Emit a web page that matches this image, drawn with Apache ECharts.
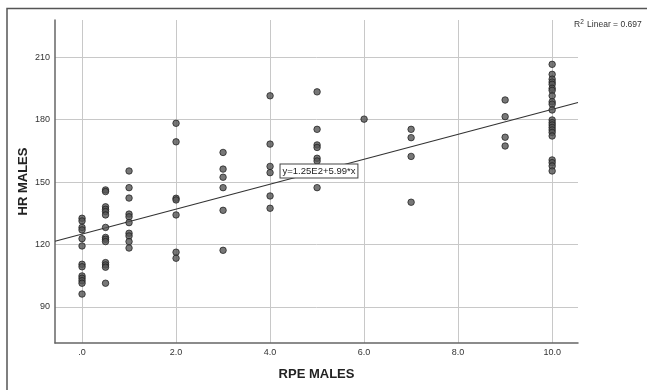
<!DOCTYPE html>
<html>
<head>
<meta charset="utf-8">
<script src="https://cdn.jsdelivr.net/npm/echarts@6/dist/echarts.min.js"></script>
<style>
html,body{margin:0;padding:0;background:#fff;}
#chart{width:647px;height:390px;}
</style>
</head>
<body>
<div id="chart"></div>
<script>
// RPE categories and HR values observed at each
const rpeLevels = [0, 0.5, 1, 2, 3, 4, 5, 6, 7, 9, 10];
const hrAt0   = [132.6, 131.3, 128.2, 127, 122.8, 119.3, 110.5, 109.3, 104.9, 103.8, 102.6, 101.4, 96.2];
const hrAt0_5 = [146.2, 145.4, 138.1, 136.9, 135.8, 134.2, 128.2, 123.4, 122.5, 121.4, 111.3, 110.2, 109.1, 101.4];
const hrAt1   = [155.3, 147.3, 142.3, 134.6, 133.3, 130.5, 125.4, 124.1, 121.4, 118.3];
const hrAt2   = [178.2, 169.3, 142.2, 141.4, 134.2, 116.3, 113.4];
const hrAt3   = [164.2, 156.2, 152.3, 147.3, 136.4, 117.2];
const hrAt4   = [191.4, 168.2, 157.5, 154.5, 143.3, 137.4];
const hrAt5   = [193.3, 175.3, 167.8, 166.6, 161.4, 160.1, 147.3];
const hrAt6   = [180.2];
const hrAt7   = [175.3, 171.3, 162.3, 140.3];
const hrAt9   = [189.4, 181.4, 171.5, 167.3];
const hrAt10  = [206.5, 201.7, 199.4, 198, 196.9, 195, 194, 191.4, 188.5, 187.4, 184.6, 179.8, 178.5, 177.4, 176.2, 175, 173.8, 172.1, 160.6, 159.3, 157.7, 155.3];
const hrGroups = [hrAt0, hrAt0_5, hrAt1, hrAt2, hrAt3, hrAt4, hrAt5, hrAt6, hrAt7, hrAt9, hrAt10];

// Fit line
const fitIntercept = 125;
const fitSlope = 5.99;
const fitLabel = 'y=1.25E2+5.99*x';
const r2Text = '0.697';

// Axis ranges / labels
const xMin = -0.575, xMax = 10.55;
const yMin = 72.7, yMax = 227.8;
const xTitle = 'RPE MALES';
const yTitle = 'HR MALES';

const points = [];
rpeLevels.forEach((r, i) => hrGroups[i].forEach(v => points.push([r, v])));
const fitData = [[xMin, fitIntercept + fitSlope * xMin], [xMax, fitIntercept + fitSlope * xMax]];

const chart = echarts.init(document.getElementById('chart'), null, {renderer: 'canvas'});
const font = 'Liberation Sans, Arial, sans-serif';
chart.setOption({
  animation: false,
  backgroundColor: '#fff',
  grid: {left: 55, right: 69, top: 20, bottom: 47, containLabel: false},
  xAxis: {
    type: 'value', min: xMin, max: xMax, splitNumber: 5,
    name: xTitle, nameLocation: 'middle', nameGap: 25, nameMoveOverlap: false,
    nameTextStyle: {fontFamily: font, fontSize: 13, fontWeight: 'bold', color: '#222'},
    axisLine: {show: true, onZero: false, lineStyle: {color: '#666', width: 1.5}},
    axisTick: {show: false},
    splitLine: {show: true, showMinLine: false, showMaxLine: false, lineStyle: {color: '#c8c8c8', width: 1}},
    axisLabel: {showMinLabel: false, showMaxLabel: false, margin: 5, fontFamily: font, fontSize: 9, color: '#333',
      formatter: v => v === 0 ? '.0' : v.toFixed(1)}
  },
  yAxis: {
    type: 'value', min: yMin, max: yMax, splitNumber: 5,
    name: yTitle, nameLocation: 'middle', nameGap: 25, nameMoveOverlap: false,
    nameTextStyle: {fontFamily: font, fontSize: 13, fontWeight: 'bold', color: '#222'},
    axisLine: {show: true, onZero: false, lineStyle: {color: '#666', width: 1.5}},
    axisTick: {show: false},
    splitLine: {show: true, showMinLine: false, showMaxLine: false, lineStyle: {color: '#c8c8c8', width: 1}},
    axisLabel: {showMinLabel: false, showMaxLabel: false, margin: 5, fontFamily: font, fontSize: 9, color: '#333'}
  },
  series: [
    {
      type: 'line', data: fitData, symbol: 'none', silent: true, z: 3,
      lineStyle: {color: '#333', width: 1.2},
      markPoint: {
        symbol: 'rect', symbolSize: 1, silent: true,
        itemStyle: {color: 'rgba(0,0,0,0)'},
        data: [{coord: [5.04, 155.3], value: fitLabel}],
        label: {show: true, position: 'inside', formatter: fitLabel, fontFamily: font, fontSize: 9.5, color: '#222',
          backgroundColor: '#fff', borderColor: '#444', borderWidth: 1, padding: [2, 2, 1, 2]}
      }
    },
    {
      type: 'scatter', data: points, symbol: 'circle', symbolSize: 6.5, z: 4,
      itemStyle: {color: '#555', borderColor: '#1a1a1a', borderWidth: 0.9}
    }
  ],
  graphic: [
    {type: 'rect', shape: {x: 7, y: 8.5, width: 700, height: 500}, style: {fill: 'none', stroke: '#555', lineWidth: 1.5}, z: -1},
    {type: 'text', left: 574, top: 19, style: {
      text: '{a|R}{s|2}{a| Linear = ' + r2Text + '}',
      rich: {a: {fontFamily: font, fontSize: 8.5, fill: '#333'}, s: {fontFamily: font, fontSize: 6.5, fill: '#333', verticalAlign: 'top', padding: [0, 1, 4, 0]}}
    }}
  ]
});
</script>
</body>
</html>
